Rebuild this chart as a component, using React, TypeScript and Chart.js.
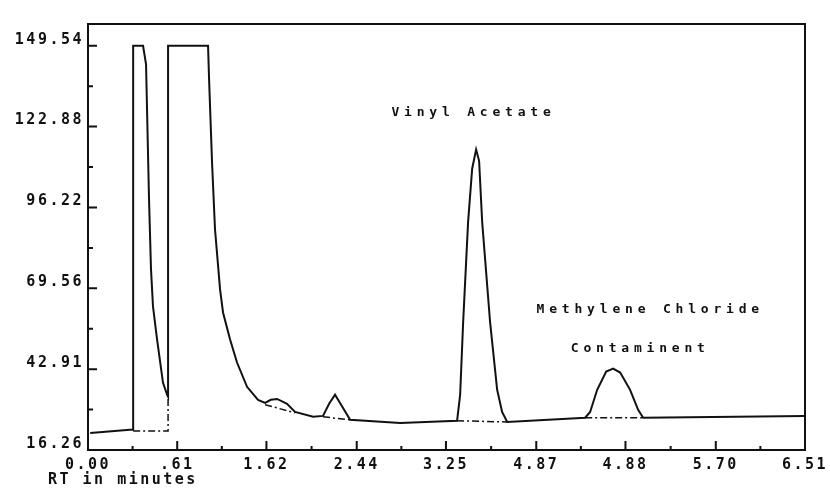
import React, { useEffect, useRef } from "react";
import { Chart, registerables } from "chart.js";

Chart.register(...registerables);

// Axis ticks (values and printed labels)
const Y_TICKS = [16.26, 42.91, 69.56, 96.22, 122.88, 149.54];
const Y_LABELS = ["16.26", "42.91", "69.56", "96.22", "122.88", "149.54"];
const X_TICKS = [0, 0.81, 1.62, 2.44, 3.25, 4.07, 4.88, 5.7, 6.51];
const X_LABELS = ["0.00", ".61", "1.62", "2.44", "3.25", "4.87", "4.88", "5.70", "6.51"];
const Y_MIN = 16.26;
const Y_MAX = 156.7;
const X_MIN = 0;
const X_MAX = 6.51;

// Chromatogram trace (retention time in minutes, detector signal)
const TIME = [
  0.02, 0.38, 0.41, 0.41, 0.5, 0.527, 0.554, 0.572, 0.59, 0.627, 0.681, 0.718,
  0.727, 0.727, 1.09, 1.099, 1.126, 1.153, 1.199, 1.226, 1.29, 1.353, 1.444,
  1.544, 1.608, 1.66, 1.717, 1.807, 1.88, 2.044, 2.134, 2.189, 2.243, 2.298,
  2.38, 2.834, 3.351, 3.379, 3.406, 3.451, 3.488, 3.524, 3.551, 3.579, 3.651,
  3.715, 3.76, 3.806, 4.514, 4.559, 4.623, 4.705, 4.768, 4.832, 4.922, 4.995,
  5.041, 6.51,
];
const SIGNAL = [
  21.9, 22.9, 22.9, 149.54, 149.54, 143.4, 99.0, 75.9, 63.6, 52.7, 38.4, 34.5,
  33.8, 149.54, 149.54, 138.8, 111.3, 89.1, 69.2, 61.6, 52.7, 45.1, 37.1, 32.8,
  31.8, 32.8, 33.1, 31.5, 28.8, 27.2, 27.5, 31.5, 34.5, 31.2, 26.2, 25.2, 25.9,
  34.5, 58.3, 91.4, 109.0, 115.3, 111.6, 91.4, 58.3, 36.1, 28.8, 25.5, 26.9,
  28.8, 36.1, 42.1, 43.1, 41.8, 36.1, 29.5, 26.9, 27.5,
];

// Integration baselines (null = gap)
const BASE_TIME = [
  0.41, 0.727, 0.727, 0.9, 1.608, 1.88, 2.0, 2.134, 2.38, 2.9, 3.351, 3.806,
  4.2, 4.514, 5.041,
];
const BASE_SIGNAL = [
  22.5, 22.5, 33.8, null, 31.2, 28.5, null, 27.2, 26.2, null, 25.9, 25.5,
  null, 26.9, 26.9,
];

// Peak annotations (anchored in data units)
const ANNOTATION_TEXT = ["Vinyl Acetate", "Methylene Chloride", "Contaminent"];
const ANNOTATION_TIME = [3.5, 5.105, 5.014];
const ANNOTATION_SIGNAL = [127.5, 62.6, 49.7];

const X_TITLE = "RT in minutes";

const INK = "#111111";
const MONO = "'DejaVu Sans Mono', 'Liberation Mono', monospace";

const plotterPlugin = {
  id: "plotter",
  beforeDraw(chart: any) {
    (chart.ctx as any).letterSpacing = "2.5px";
  },
  afterDraw(chart: any) {
    const { ctx, chartArea: a, scales } = chart;
    const xs = scales.x;
    const ys = scales.y;
    ctx.save();
    ctx.strokeStyle = INK;
    ctx.lineWidth = 2;
    ctx.strokeRect(a.left, a.top, a.right - a.left, a.bottom - a.top);

    ctx.beginPath();
    Y_TICKS.forEach((v, i) => {
      const py = ys.getPixelForValue(v);
      ctx.moveTo(a.left, py);
      ctx.lineTo(a.left + 9, py);
      if (i < Y_TICKS.length - 1) {
        const pm = ys.getPixelForValue((v + Y_TICKS[i + 1]) / 2);
        ctx.moveTo(a.left, pm);
        ctx.lineTo(a.left + 5, pm);
      }
    });
    X_TICKS.forEach((v, i) => {
      const px = xs.getPixelForValue(v);
      ctx.moveTo(px, a.bottom);
      ctx.lineTo(px, a.bottom - 9);
      if (i < X_TICKS.length - 1) {
        const pm = xs.getPixelForValue((v + X_TICKS[i + 1]) / 2);
        ctx.moveTo(pm, a.bottom);
        ctx.lineTo(pm, a.bottom - 4);
      }
    });
    ctx.stroke();

    ctx.fillStyle = INK;
    ctx.font = `bold 13px ${MONO}`;
    (ctx as any).letterSpacing = "4.8px";
    ctx.textAlign = "center";
    ctx.textBaseline = "middle";
    ANNOTATION_TEXT.forEach((t, i) => {
      ctx.fillText(
        t,
        xs.getPixelForValue(ANNOTATION_TIME[i]),
        ys.getPixelForValue(ANNOTATION_SIGNAL[i])
      );
    });

    ctx.font = `bold 15px ${MONO}`;
    (ctx as any).letterSpacing = "2.5px";
    ctx.textAlign = "left";
    ctx.fillText(X_TITLE, a.left - 40, a.bottom + 30);
    ctx.restore();
  },
};

export default function App() {
  const canvasRef = useRef<HTMLCanvasElement | null>(null);

  useEffect(() => {
    const canvas = canvasRef.current;
    if (!canvas) return;
    const trace = TIME.map((t, i) => ({ x: t, y: SIGNAL[i] }));
    const base = BASE_TIME.map((t, i) => ({ x: t, y: BASE_SIGNAL[i] }));
    const tickFont = { family: MONO, size: 15, weight: "bold" as const };

    const chart = new Chart(canvas, {
      type: "line",
      data: {
        datasets: [
          {
            data: trace,
            borderColor: INK,
            borderWidth: 2,
            pointRadius: 0,
            tension: 0,
            fill: false,
          },
          {
            data: base as any,
            borderColor: INK,
            borderWidth: 1.5,
            borderDash: [7, 3, 2, 3],
            pointRadius: 0,
            tension: 0,
            fill: false,
            spanGaps: false,
          },
        ],
      },
      options: {
        responsive: false,
        animation: false,
        devicePixelRatio: 1,
        layout: { padding: { left: 0, right: 25, top: 24, bottom: 0 } },
        plugins: {
          legend: { display: false },
          tooltip: { enabled: false },
          title: { display: false },
        },
        scales: {
          x: {
            type: "linear",
            min: X_MIN,
            max: X_MAX,
            grid: { display: false, drawTicks: false },
            border: { display: false },
            afterBuildTicks: (s: any) => {
              s.ticks = X_TICKS.map((v) => ({ value: v }));
            },
            afterFit: (s: any) => {
              s.height = 38;
            },
            ticks: {
              autoSkip: false,
              maxRotation: 0,
              minRotation: 0,
              color: INK,
              font: tickFont,
              padding: 6,
              callback: (_v: any, i: number) => X_LABELS[i],
            },
          },
          y: {
            type: "linear",
            min: Y_MIN,
            max: Y_MAX,
            grid: { display: false, drawTicks: false },
            border: { display: false },
            afterBuildTicks: (s: any) => {
              s.ticks = Y_TICKS.map((v) => ({ value: v }));
            },
            afterFit: (s: any) => {
              s.width = 88;
            },
            ticks: {
              autoSkip: false,
              color: INK,
              font: tickFont,
              padding: 4,
              labelOffset: -6,
              callback: (_v: any, i: number) => Y_LABELS[i],
            },
          },
        },
      },
      plugins: [plotterPlugin],
    });
    return () => chart.destroy();
  }, []);

  return (
    <div
      style={{
        position: "fixed",
        left: 0,
        top: 0,
        width: 830,
        height: 488,
        background: "#ffffff",
      }}
    >
      <canvas ref={canvasRef} width={830} height={488} />
    </div>
  );
}
